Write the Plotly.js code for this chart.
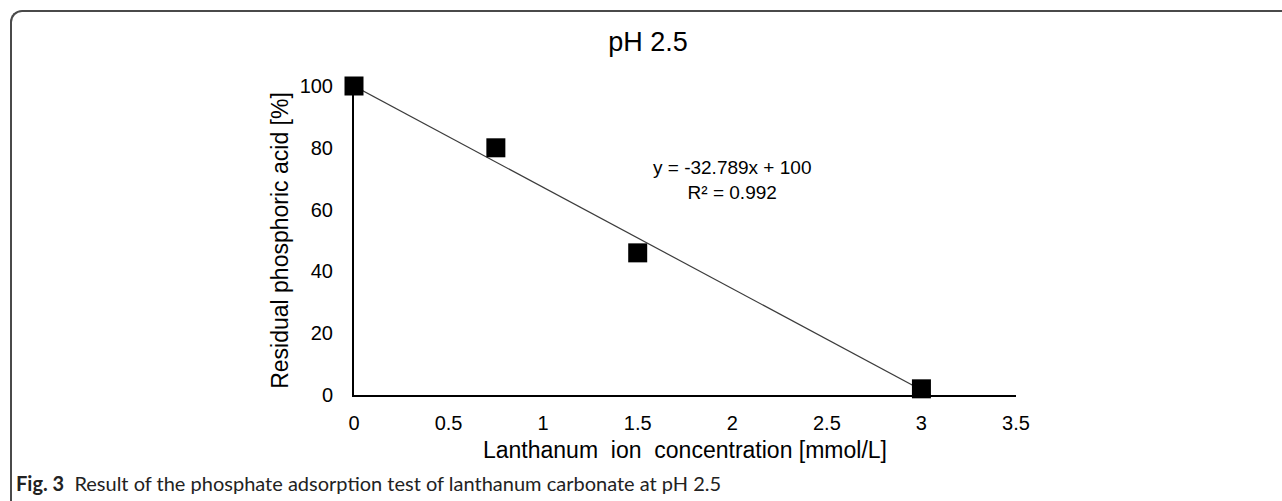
<!DOCTYPE html>
<html>
<head>
<meta charset="utf-8">
<script src="https://cdn.plot.ly/plotly-3.0.1.min.js"></script>
<style>
  html, body { margin: 0; padding: 0; background: #fff; }
  #wrap { position: relative; width: 1282px; height: 501px; overflow: hidden; }
  #frame { position: absolute; left: 10px; top: 10px; width: 1400px; height: 700px;
           border-top: 2px solid #4a4a4a; border-left: 2px solid #4a4a4a;
           border-top-left-radius: 12px; pointer-events: none; }
  #chart { position: absolute; left: 0; top: 0; width: 1282px; height: 501px; }
</style>
</head>
<body>
<div id="wrap">
  <div id="chart"></div>
  <div id="frame"></div>
</div>
<script>
// Data
const concentration = [0, 0.75, 1.5, 3];          // mmol/L
const residualAcid = [100, 80, 46, 2];            // %
const xTicks = [0, 0.5, 1, 1.5, 2, 2.5, 3, 3.5];
const xTickLabels = ['0', '0.5', '1', '1.5', '2', '2.5', '3', '3.5'];
const yTicks = [0, 20, 40, 60, 80, 100];
const yTickLabels = ['0', '20', '40', '60', '80', '100'];
const trendSlope = -32.789;
const trendIntercept = 100;
const trendR2 = 0.992;
const chartTitle = 'pH 2.5';
const xTitle = 'Lanthanum  ion  concentration [mmol/L]';
const yTitle = 'Residual phosphoric acid [%]';
const captionBold = 'Fig. 3';
const captionText = 'Result of the phosphate adsorption test of lanthanum carbonate at pH 2.5';

// Trendline: from x = 0 to where the fitted line reaches 0
const trendEndX = -trendIntercept / trendSlope;
const trendX = [0, trendEndX];
const trendY = trendX.map(x => trendSlope * x + trendIntercept);

const FONT = 'Liberation Sans, Arial, sans-serif';

const traces = [
  {
    x: trendX, y: trendY, type: 'scatter', mode: 'lines',
    line: { color: '#3c3c3c', width: 1.2 },
    hoverinfo: 'skip', showlegend: false
  },
  {
    x: concentration, y: residualAcid, type: 'scatter', mode: 'markers',
    marker: { symbol: 'square', size: 19, color: '#000000', line: { width: 0 } },
    showlegend: false, cliponaxis: false
  }
];

const layout = {
  width: 1282, height: 501,
  paper_bgcolor: 'rgba(0,0,0,0)', plot_bgcolor: 'rgba(0,0,0,0)',
  margin: { l: 354, r: 266, t: 86, b: 106 },
  font: { family: FONT, color: '#000' },
  showlegend: false,
  title: {
    text: chartTitle, font: { family: FONT, size: 27, color: '#000' },
    xref: 'container', yref: 'container', x: 648 / 1282, xanchor: 'center',
    y: 1 - 42 / 501, yanchor: 'middle'
  },
  xaxis: {
    range: [0, 3.5], tickmode: 'array', tickvals: xTicks, ticktext: xTickLabels,
    showgrid: false, zeroline: false, showline: true, linecolor: '#000', linewidth: 2,
    ticks: 'outside', ticklen: 9, tickcolor: 'rgba(0,0,0,0)',
    tickfont: { family: FONT, size: 20, color: '#000' },
    title: { text: xTitle, font: { family: FONT, size: 23, color: '#000' }, standoff: 9 }
  },
  yaxis: {
    range: [0, 100], tickmode: 'array', tickvals: yTicks, ticktext: yTickLabels,
    showgrid: false, zeroline: false, showline: true, linecolor: '#000', linewidth: 2,
    ticks: 'outside', ticklen: 15, tickcolor: 'rgba(0,0,0,0)',
    tickfont: { family: FONT, size: 20, color: '#000' },
    title: { text: yTitle, font: { family: FONT, size: 23, color: '#000' }, standoff: 5 }
  },
  annotations: [
    {
      xref: 'x', yref: 'y', x: 2.0, y: 69.5, xanchor: 'center', yanchor: 'middle',
      text: 'y = ' + trendSlope + 'x + ' + trendIntercept + '<br>R² = ' + trendR2,
      showarrow: false, align: 'center',
      font: { family: FONT, size: 19, color: '#000' }
    },
    {
      xref: 'paper', yref: 'paper', x: -340 / 662, y: -88 / 309,
      xanchor: 'left', yanchor: 'middle', showarrow: false, align: 'left',
      text: '<b>' + captionBold + '</b>  ' + captionText,
      font: { family: 'Lato, sans-serif', size: 20, color: '#222' }
    }
  ]
};

Plotly.newPlot('chart', traces, layout, { displayModeBar: false, staticPlot: true });
</script>
</body>
</html>
